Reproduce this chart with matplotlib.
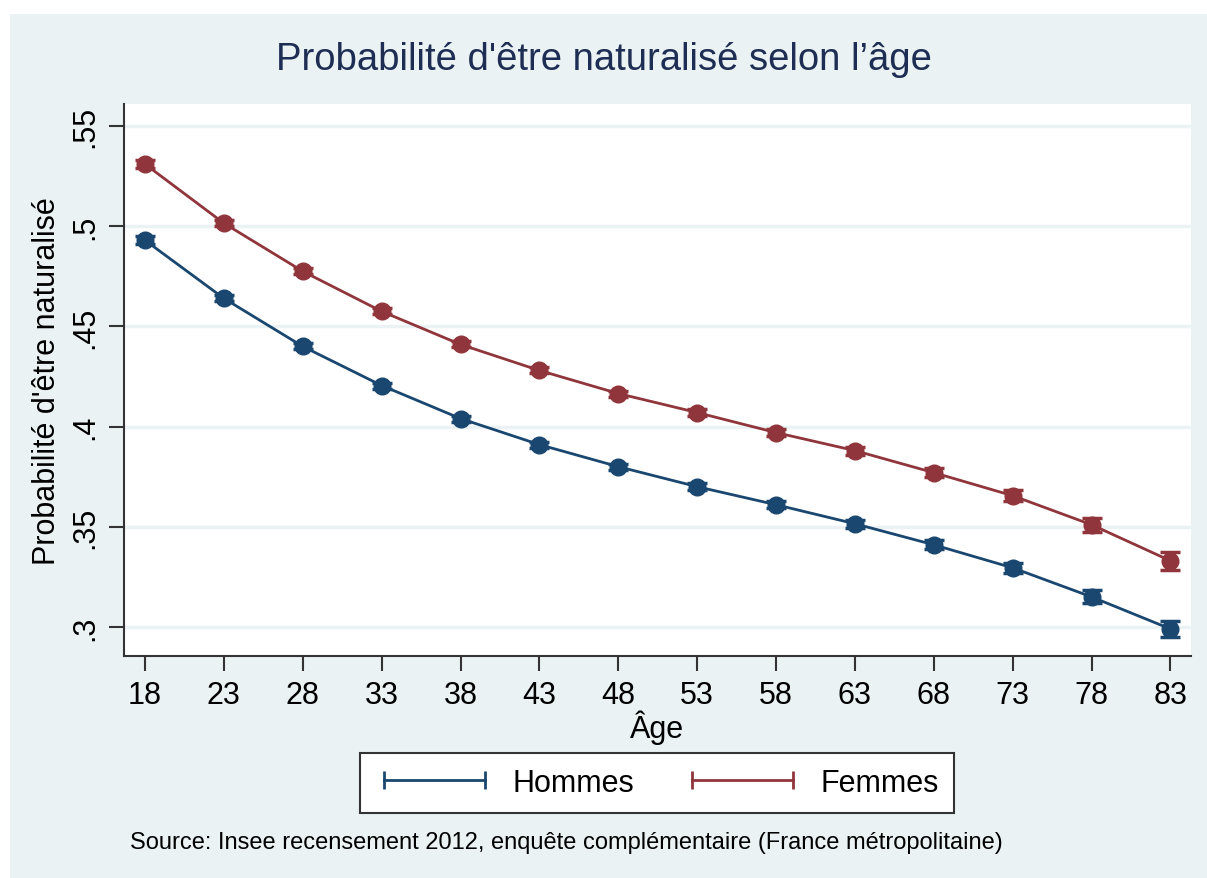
import matplotlib
matplotlib.use("Agg")
import matplotlib.pyplot as plt
from matplotlib.lines import Line2D
from matplotlib.patches import Rectangle

# Data
ages = [18, 23, 28, 33, 38, 43, 48, 53, 58, 63, 68, 73, 78, 83]
hommes = [0.493, 0.464, 0.440, 0.4205, 0.404, 0.391, 0.380, 0.370,
          0.361, 0.3515, 0.341, 0.3295, 0.315, 0.299]
femmes = [0.531, 0.5015, 0.4775, 0.4575, 0.441, 0.428, 0.4165, 0.407,
          0.397, 0.388, 0.377, 0.3655, 0.351, 0.333]
err_h = [0.002, 0.0015, 0.0015, 0.0015, 0.0015, 0.0015, 0.0015, 0.0016,
         0.0018, 0.002, 0.0022, 0.0026, 0.0032, 0.0042]
err_f = [0.002, 0.0015, 0.0015, 0.0015, 0.0015, 0.0015, 0.0015, 0.0016,
         0.0018, 0.002, 0.0023, 0.0028, 0.0034, 0.0045]
yticks = [0.3, 0.35, 0.4, 0.45, 0.5, 0.55]
ytick_labels = [".3", ".35", ".4", ".45", ".5", ".55"]

NAVY = "#1a476f"
MAROON = "#90353b"
BG = "#eaf2f3"

plt.rcParams['font.family'] = ['Liberation Sans', 'DejaVu Sans']

W, H = 1207, 879
fig = plt.figure(figsize=(W / 100, H / 100), dpi=100)
fig.patch.set_facecolor("white")
fig.patches.append(Rectangle((10 / W, 0), 1 - 10 / W, 1 - 15 / H,
                             transform=fig.transFigure, facecolor=BG,
                             edgecolor="none", zorder=-10))

ax = fig.add_axes([124 / W, 1 - 657 / H, (1191 - 124) / W, (657 - 105) / H])
ax.set_facecolor("white")

for y, e, c in [(hommes, err_h, NAVY), (femmes, err_f, MAROON)]:
    ax.errorbar(ages, y, yerr=e, color=c, lw=2, marker="o", ms=12,
                capsize=7, capthick=2.5, elinewidth=2, zorder=3)

ax.set_xlim(16.67, 84.3)
ax.set_ylim(0.2855, 0.561)
ax.set_xticks(ages)
ax.set_yticks(yticks)
ax.set_yticklabels(ytick_labels, rotation=90, va="center")
ax.tick_params(axis="both", labelsize=22, length=11, width=1.5,
               color="#333333", labelcolor="black", pad=6)
ax.yaxis.grid(True, color=BG, lw=2.5)
ax.set_axisbelow(True)
for s in ["top", "right"]:
    ax.spines[s].set_visible(False)
for s in ["left", "bottom"]:
    ax.spines[s].set_color("#333333")
    ax.spines[s].set_linewidth(1.5)

ax.set_xlabel("Âge", fontsize=22, labelpad=0)
ax.set_ylabel("Probabilité d'être naturalisé", fontsize=22, labelpad=6)

fig.text(0.5, 1 - 60 / H, "Probabilité d'être naturalisé selon l’âge",
         ha="center", va="center", fontsize=27.5, color="#1e2d53")

handles = [Line2D([], [], color=NAVY, lw=2, marker="|", ms=13, mew=2),
           Line2D([], [], color=MAROON, lw=2, marker="|", ms=13, mew=2)]
leg = fig.legend(handles, ["Hommes", "Femmes"], loc="center",
                 bbox_to_anchor=(657 / W, 1 - 784 / H), ncol=2,
                 fontsize=22, numpoints=2, handlelength=3.9,
                 columnspacing=1.6, handletextpad=0.6, fancybox=False,
                 borderpad=0.5, borderaxespad=0, framealpha=1)
leg.get_frame().set_edgecolor("#333333")
leg.get_frame().set_facecolor("white")
leg.get_frame().set_linewidth(1.5)

fig.text(130 / W, 1 - 843 / H,
         "Source: Insee recensement 2012, enquête complémentaire (France métropolitaine)",
         ha="left", va="center", fontsize=17, color="black")

fig.savefig("out.png", dpi=100, facecolor=fig.get_facecolor())
